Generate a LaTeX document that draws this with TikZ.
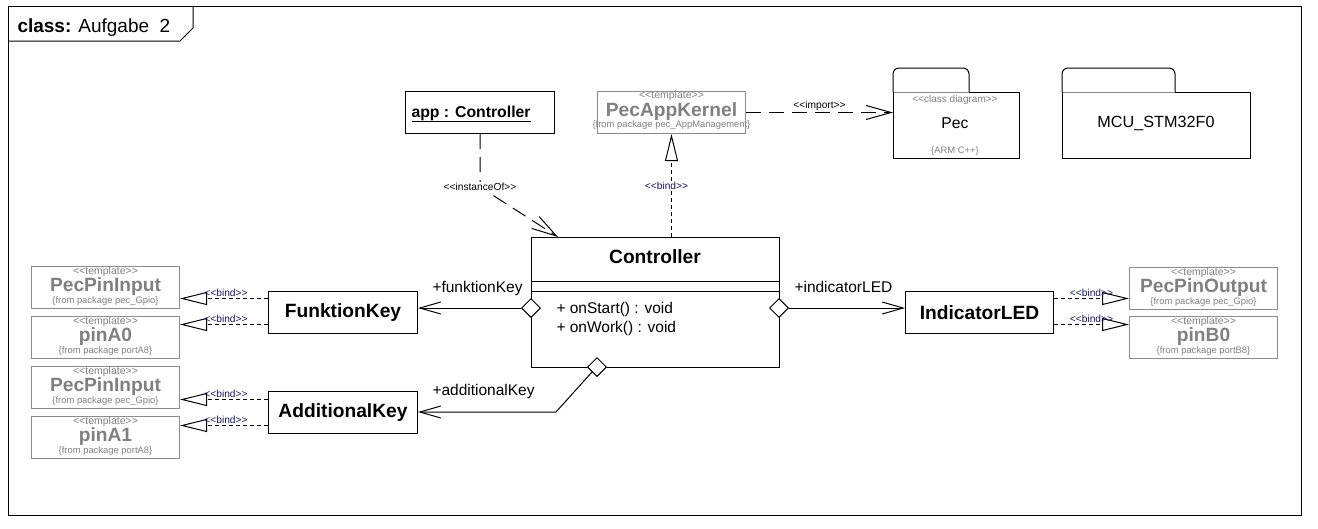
\documentclass[tikz,border=0pt]{standalone}
\usepackage{fontspec}
\setmainfont{Liberation Sans}
\usetikzlibrary{arrows.meta, positioning, calc, shapes.geometric}

\definecolor{TplGray}{RGB}{128,128,128}
\definecolor{TplLine}{RGB}{140,140,140}
\definecolor{BindBlue}{RGB}{20,20,95}

\newcommand{\fs}[1]{\fontsize{#1}{#1}\selectfont}
\newcommand{\ster}[1]{<\kern0pt<#1>\kern0pt>}

\tikzset{
  cls/.style={draw, anchor=north west, minimum width=149pt, minimum height=42pt,
              inner sep=0pt, font=\fs{19.2}\bfseries},
  tpl/.style={draw=TplLine, anchor=north west, minimum width=148pt,
              minimum height=42pt, inner sep=0pt},
  tplsmall/.style={anchor=base, inner sep=0pt, text=TplGray, font=\fs{10.5}},
  tplname/.style={anchor=base, inner sep=0pt, text=TplGray, font=\fs{19.2}\bfseries},
  tplpkg/.style={anchor=base, inner sep=0pt, text=TplGray, font=\fs{9.4}},
  agg/.style={diamond, draw, fill=white, minimum width=19pt, minimum height=19pt,
              inner sep=0pt},
  assoc/.style={-{Straight Barb[length=21pt, width=12pt]}},
  dep/.style={dash pattern=on 15pt off 8pt, -{Straight Barb[length=25pt, width=14pt]}},
  bindline/.style={dash pattern=on 4pt off 3pt, -{Triangle[open, length=27pt, width=13pt]}},
  bindlbl/.style={font=\fs{10.2}, text=BindBlue, inner sep=1pt},
  stereo/.style={font=\fs{10.2}, inner sep=1pt},
  rolelbl/.style={anchor=base west, inner sep=0pt},
}

% template class box: name, top left, template name, package
\newcommand{\tplbox}[4]{%
  \node[tpl] (#1) at (#2) {};
  \node[tplsmall] at ($(#1.north)+(0,8)$) {\ster{template}};
  \node[tplname] at ($(#1.north)+(0,25)$) {#3};
  \node[tplpkg] at ($(#1.north)+(0,37)$) {\{from package #4\}};
}

% package folder: name, top left of body, body width, tab width
\newcommand{\pkgbox}[4]{%
  \node[anchor=north west, minimum width=#3, minimum height=65pt, inner sep=0pt] (#1) at (#2) {};
  \draw[rounded corners=6pt] (#1.north west) -- ++(0,-24) -- ++(#4,0) -- ++(0,24);
  \draw[TplLine] (#1.north west) -- ++(#4,0);
  \draw ($(#1.north west)+(#4,0)$) -- (#1.north east) -- (#1.south east)
        -- (#1.south west) -- (#1.north west);
}

\begin{document}
\begin{tikzpicture}[x=1pt, y=-1pt, line width=1pt, font=\fs{15.5}]
  \useasboundingbox (0,0) rectangle (1318,528);

  % diagram frame
  \draw (8,6) rectangle (1301,515);
  \draw (8,41) -- (180,41) -- (193,28) -- (193,6);
  \node[anchor=base west, inner sep=0pt, font=\fs{19}] (title) at (17,32)
        {\textbf{class:} Aufgabe~~2};

  % instance and kernel template
  \node[draw, anchor=north west, minimum width=149pt, minimum height=42pt,
        inner sep=0pt] (app) at (405,91) {};
  \node[anchor=base west, inner sep=0pt, font=\fs{15.8}\bfseries] at (411,117)
        {\underline{app : Controller}};
  \node[tpl] (pk) at (597,91) {};
  \node[tplsmall] at ($(pk.north)+(0,7)$) {\ster{template}};
  \node[tplname] at ($(pk.north)+(0,25)$) {PecAppKernel};
  \node[tplpkg] at ($(pk.north)+(0,36)$) {\{from package pec\_AppManagement\}};

  % packages
  \pkgbox{pec}{893,92}{125pt}{76}
  \node[tplsmall, font=\fs{10}] at (955,102) {\ster{class diagram}};
  \node[anchor=base, inner sep=0pt, font=\fs{15.7}] at (955,128) {Pec};
  \node[tplpkg] at (955,153) {\{ARM C++\}};
  \pkgbox{mcu}{1062,92}{187pt}{113}
  \node[anchor=base, inner sep=0pt, font=\fs{16.2}] at (mcu.center |- 0,127) {MCU\_STM32F0};

  \draw[dep] (pk.east) -- (pec.west |- pk.east)
        node[stereo, above, midway] {\ster{import}};

  % Controller
  \node[draw, anchor=north west, minimum width=248pt, minimum height=130pt,
        inner sep=0pt] (ctrl) at (531,237) {};
  \node[anchor=base, inner sep=0pt, font=\fs{19.2}\bfseries] at (655,263) {Controller};
  \draw ($(ctrl.north west)+(0,44)$) -- ($(ctrl.north east)+(0,44)$);
  \draw ($(ctrl.north west)+(0,54)$) -- ($(ctrl.north east)+(0,54)$);
  \node[rolelbl] (op1) at (556,313) {+ onStart() : void};
  \node[rolelbl] (op2) at (556,332) {+ onWork() : void};

  \draw[dep] (app.south) -- ++(0,53) coordinate (ibend) -- ($(ctrl.north west)+(27,0)$);
  \node[stereo, fill=white] at (ibend) {\ster{instanceOf}};
  \draw[bindline] (pk.south |- ctrl.north) -- (pk.south)
        node[bindlbl, fill=white, midway, xshift=-5pt] {\ster{bind}};

  % parts
  \node[cls] (fk) at (268,291) {FunktionKey};
  \node[cls] (ak) at (268,391) {AdditionalKey};
  \node[cls, minimum width=148pt] (led) at (905,291) {IndicatorLED};

  \node[agg] (dm1) at (531,308) {};
  \node[agg] (dm2) at (779,308) {};
  \node[agg] (dm3) at (597,367) {};
  \coordinate (bend) at (556,412);
  \draw[assoc] (dm1.west) -- (fk.east |- dm1.west);
  \draw[assoc] (dm2.east) -- (led.west |- dm2.east);
  \draw[assoc] (dm3.south west) -- (bend) -- (ak.east |- bend);
  \node[rolelbl] at (432,292) {+funktionKey};
  \node[rolelbl] at (432,395) {+additionalKey};
  \node[rolelbl] at (794,292) {+indicatorLED};

  % bound templates
  \tplbox{ppi1}{31,266}{PecPinInput}{pec\_Gpio}
  \tplbox{pa0}{31,316}{pinA0}{portA8}
  \tplbox{ppi2}{31,366}{PecPinInput}{pec\_Gpio}
  \tplbox{pa1}{31,416}{pinA1}{portA8}
  \tplbox{ppo}{1129,267}{PecPinOutput}{pec\_Gpio}
  \tplbox{pb0}{1129,316}{pinB0}{portB8}

  \foreach \src/\dy/\dst in {fk/14/ppi1, fk/-12/pa0, ak/13/ppi2, ak/-13/pa1} {
    \coordinate (s) at ([yshift=\dy pt]\src.west);
    \draw[bindline] (s) -- (s -| \dst.east)
          node[bindlbl, above, midway, xshift=2pt] {\ster{bind}};
  }
  \foreach \dy/\dst in {14/ppo, -12/pb0} {
    \coordinate (s) at ([yshift=\dy pt]led.east);
    \draw[bindline] (s) -- (s -| \dst.west)
          node[bindlbl, above, midway] {\ster{bind}};
  }
\end{tikzpicture}
\end{document}
